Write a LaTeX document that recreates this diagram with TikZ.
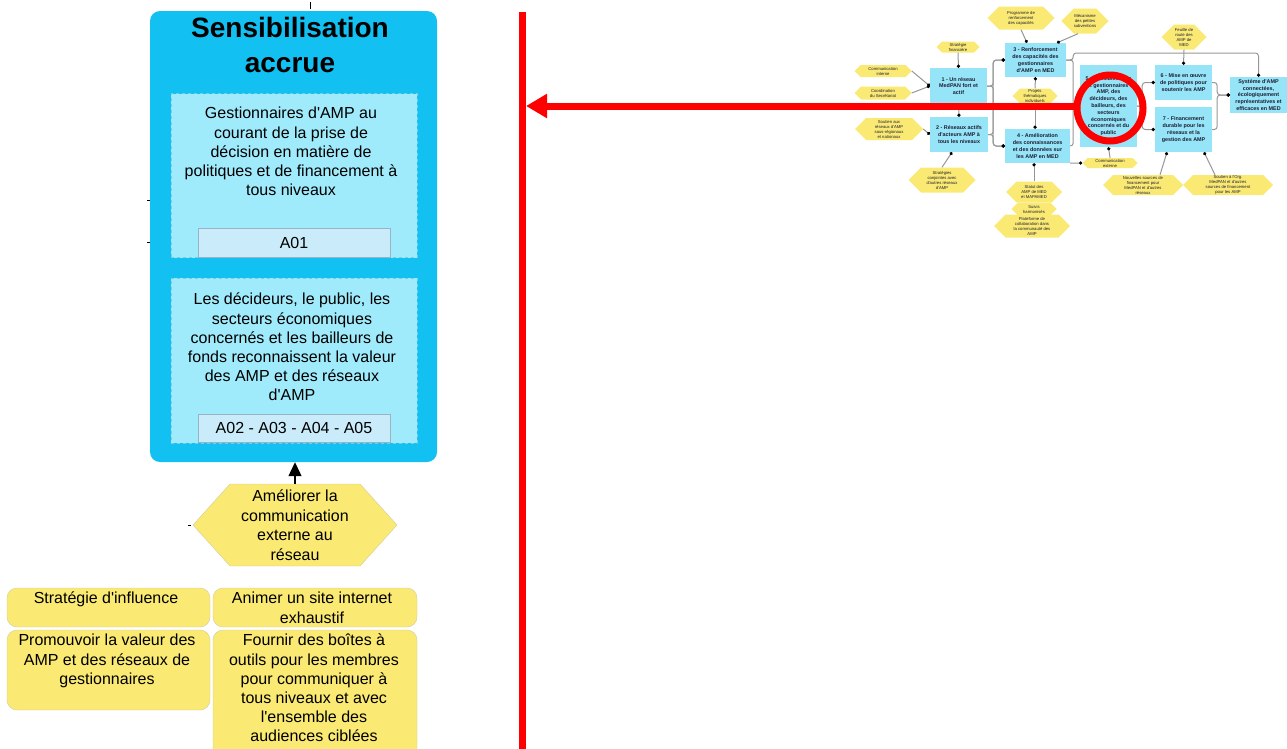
\documentclass[tikz,border=0pt]{standalone}
\usepackage{fontspec}
\setmainfont{Liberation Sans}[Ligatures=TeXOff]
\usetikzlibrary{arrows.meta}
\usetikzlibrary{calc}
\usetikzlibrary{shapes.symbols}

\definecolor{skyfill}{RGB}{18,192,242}
\definecolor{resfill}{RGB}{160,235,251}
\definecolor{resline}{RGB}{120,205,230}
\definecolor{barfill}{RGB}{202,236,250}
\definecolor{barline}{RGB}{150,180,195}
\definecolor{actfill}{RGB}{250,233,115}
\definecolor{actline}{RGB}{210,205,160}
\definecolor{minifill}{RGB}{150,228,248}
\definecolor{minitext}{RGB}{30,30,50}
\definecolor{linkgray}{RGB}{150,150,150}
\definecolor{markred}{RGB}{255,0,0}

\tikzset{
  bigbox/.style={fill=skyfill, rounded corners=10pt, inner sep=0pt},
  resbox/.style={fill=resfill, draw=resline, dashed, inner sep=0pt},
  codebar/.style={fill=barfill, draw=barline, inner sep=0pt, font=\fontsize{16}{19.2}\selectfont},
  bodytext/.style={inner sep=0pt, align=center, font=\fontsize{16}{19.2}\selectfont},
  acthex/.style={shape=signal, signal to=west and east, signal pointer angle=96, fill=actfill, draw=actline, inner sep=0pt, align=center, font=\fontsize{16}{19.5}\selectfont},
  actbox/.style={fill=actfill, draw=actline, rounded corners=10pt, inner sep=0pt},
  minibox/.style={fill=minifill, inner sep=0pt, align=center, text=minitext, font=\fontsize{5.4}{6.8}\bfseries\selectfont},
  minihex/.style={shape=signal, signal to=west and east, signal pointer angle=90, fill=actfill, inner sep=0pt, align=center, text=minitext, font=\fontsize{4.2}{5}\selectfont},
  link/.style={draw=linkgray, line width=1pt, rounded corners=3pt, -{Circle[length=3.2pt, color=black]}},
}

\begin{document}
\begin{tikzpicture}[x=1pt,y=-1pt]
            \useasboundingbox (0,0) rectangle (1287,748);

            % left column
            \node[bigbox, minimum width=287pt, minimum height=451pt] (sens) at (293.5,236.5) {};
            \node[inner sep=0pt, align=center, anchor=north, font=\fontsize{28}{35}\bfseries\selectfont] (senstitle) at (290,17) {Sensibilisation\\accrue};

            \node[resbox, minimum width=246pt, minimum height=164pt] (res1) at (294,175.5) {};
            \node[bodytext, anchor=north] (res1text) at (291,107) {Gestionnaires d'AMP au\\courant de la prise de\\décision en matière de\\politiques et de financement à\\tous niveaux};
            \node[codebar, minimum width=192pt, minimum height=29pt] (code1) at (294,242.5) {A01};

            \node[resbox, minimum width=246pt, minimum height=165pt] (res2) at (294,360.5) {};
            \node[bodytext, anchor=north] (res2text) at (292,293) {Les décideurs, le public, les\\secteurs économiques\\concernés et les bailleurs de\\fonds reconnaissent la valeur\\des AMP et des réseaux\\d'AMP};
            \node[codebar, minimum width=192pt, minimum height=28pt] (code2) at (294,428) {A02 - A03 - A04 - A05};

            \node[acthex, minimum width=204pt, minimum height=82pt] (amel) at (295,525) {Améliorer la\\communication\\externe au\\réseau};
            \draw[-{Triangle[length=14pt,width=13pt]}, line width=1.2pt] (amel.north) -- (amel.north |- sens.south);

            % stray ends
            \draw[line width=1pt] (310,2) -- (310,9);
            \draw[line width=1pt] (147,200) -- (150,200);
            \draw[line width=1pt] (147,242) -- (150,242);
            \draw[line width=1pt] (188,525) -- (191,525);

            % actions
            \node[actbox, minimum width=203pt, minimum height=39pt] (strat) at (108.5,607.5) {};
            \node[bodytext, anchor=north] (strattext) at (106,592) {Stratégie d'influence};
            \node[actbox, minimum width=204pt, minimum height=39pt] (site) at (315,607.5) {};
            \node[bodytext, anchor=north] (sitetext) at (312,592) {Animer un site internet\\exhaustif};
            \node[actbox, minimum width=203pt, minimum height=80pt] (promo) at (108.5,670) {};
            \node[bodytext, anchor=north] (promotext) at (107,634) {Promouvoir la valeur des\\AMP et des réseaux de\\gestionnaires};
            \node[actbox, minimum width=204pt, minimum height=130pt] (boite) at (315,695) {};
            \node[bodytext, anchor=north] (boitetext) at (314,634) {Fournir des boîtes à\\outils pour les membres\\pour communiquer à\\tous niveaux et avec\\l'ensemble des\\audiences ciblées};

            % overview
            \node[minibox, minimum width=57pt, minimum height=36pt] (b1) at (958.5,86) {1 - Un réseau\\MedPAN fort et\\actif};
            \node[minibox, minimum width=58pt, minimum height=35pt] (b2) at (959,134.5) {2 - Réseaux actifs\\d'acteurs AMP à\\tous les niveaux};
            \node[minibox, minimum width=61pt, minimum height=34pt] (b3) at (1035.5,60) {3 - Renforcement\\des capacités des\\gestionnaires\\d'AMP en MED};
            \node[minibox, minimum width=65pt, minimum height=34pt] (b4) at (1037.5,146) {4 - Amélioration\\des connaissances\\et des données sur\\les AMP en MED};
            \node[minibox, minimum width=57pt, minimum height=82pt] (b5) at (1108.5,106) {5 - Sensibilisation\\des gestionnaires d'\\AMP, des\\décideurs, des\\bailleurs, des\\secteurs\\économiques\\concernés et du\\public};
            \node[minibox, minimum width=57pt, minimum height=35pt] (b6) at (1183.5,82.5) {6 - Mise en œuvre\\de politiques pour\\soutenir les AMP};
            \node[minibox, minimum width=57pt, minimum height=45pt] (b7) at (1183.5,129.5) {7 - Financement\\durable pour les\\réseaux et la\\gestion des AMP};
            \node[minibox, minimum width=57pt, minimum height=36pt] (b8) at (1258.5,95) {Système d'AMP\\connectées,\\écologiquement\\représentatives et\\efficaces en MED};

            \node[minihex, minimum width=57pt, minimum height=12pt] (h1) at (883,71) {Communication\\interne};
            \node[minihex, minimum width=57pt, minimum height=13pt] (h2) at (883,93) {Coordination\\du Secrétariat};
            \node[minihex, minimum width=43pt, minimum height=11pt] (h3) at (958,47) {Stratégie\\financière};
            \node[minihex, minimum width=67pt, minimum height=23pt] (h4) at (1021,18) {Programme de\\renforcement\\des capacités};
            \node[minihex, minimum width=45pt, minimum height=25pt] (h5) at (1085,21) {Mécanisme\\des petites\\subventions};
            \node[minihex, minimum width=45pt, minimum height=15pt] (h6) at (1035,96) {Projets\\thématiques\\individuels};
            \node[minihex, minimum width=68pt, minimum height=22pt] (h7) at (889,129) {Soutien aux\\réseaux d'AMP\\sous-régionaux\\et nationaux};
            \node[minihex, minimum width=67pt, minimum height=25pt] (h8) at (942,180) {Stratégies\\conjointes avec\\d'autres réseaux\\d'AMP};
            \node[minihex, minimum width=56pt, minimum height=21pt] (h9) at (1034,192) {Statut des\\AMP de MED\\et MAPAMED};
            \node[minihex, minimum width=45pt, minimum height=12pt] (h10) at (1034,209) {Suivis\\harmonisés};
            \node[minihex, minimum width=76pt, minimum height=23pt] (h11) at (1032,226) {Plateforme de\\collaboration dans\\la communauté des\\AMP};
            \node[minihex, minimum width=45pt, minimum height=25pt] (h12) at (1184,37) {Feuille de\\route des\\AMP de\\MED};
            \node[minihex, minimum width=55pt, minimum height=10pt] (h13) at (1110,163) {Communication\\externe};
            \node[minihex, minimum width=80pt, minimum height=20pt] (h14) at (1143,185) {Nouvelles sources de\\financement pour\\MedPAN et d'autres\\réseaux};
            \node[minihex, minimum width=90pt, minimum height=20pt] (h15) at (1228,185) {Soutien à l'Org.\\MedPAN et d'autres\\sources de financement\\pour les AMP};

            \coordinate (topbus) at (1200,53);

            \draw[link] (h1.east) -- (b1.west);
            \draw[link] (h2.east) -- (b1.west);
            \draw[link] (h3.south) -- (b1.north);
            \draw[link] (b1.south) -- (b2.north);
            \draw[link] (h7.east) -- (b2.west);
            \draw[link] (h8.north) -- ([xshift=-7pt]b2.south);
            \draw[link] (b1.east) -- ++(6,0) |- (b3.west);
            \draw[link] (b1.east) -- ++(6,0) |- (b4.west);
            \draw[link] (b2.east) -- ++(5,0) |- (b3.west);
            \draw[link] (b2.east) -- ++(5,0) |- (b4.west);
            \draw[link] (h4.south) -- ([xshift=-8.5pt]b3.north);
            \draw[link] ([xshift=-7pt]h5.south) -- ([xshift=21.5pt]b3.north);
            \draw[link] (h6.north) -- (b3.south);
            \draw[link] (h6.south) -- (h6.south |- b4.north);
            \draw[link] (h9.north) -- (h9.north |- b4.south);
            \draw[link] (b3.east) -- ++(7,0) |- (b5.west);
            \draw[link] (b4.east) -- ++(3,0) |- (b5.west);
            \draw[link] (b3.east) -- ++(7,0) |- (b8.north |- topbus) -- (b8.north);
            \draw[link] (h12.south) -- (b6.north);
            \draw[link] (b5.east) -- ++(5,0) |- (b6.west);
            \draw[link] (b5.east) -- ++(5,0) |- (b7.west);
            \draw[link] (b6.east) -- ++(5,0) |- (b8.west);
            \draw[link] (b7.east) -- ++(5,0) |- (b8.west);
            \draw[link] (b4.south east) -- (h13.west);
            \draw[link] (h13.north) -- (b5.south);
            \draw[link] ([xshift=17pt]h14.north) -- ([xshift=-16.5pt]b7.south);
            \draw[link] ([xshift=-13pt]h15.north) -- ([xshift=20.5pt]b7.south);

            % pointer
            \coordinate (redtop) at (522,12);
            \coordinate (redbot) at (522,750);
            \coordinate (hit) at (526,106);
            \draw[markred, line width=7pt] (redtop) -- (redbot);
            \node[draw=markred, line width=7pt, circle, minimum size=66pt, inner sep=0pt] (focus) at (1110,108) {};
            \draw[markred, line width=7pt, -{Triangle[length=21pt,width=23pt]}] ([yshift=2pt]focus.west) -- (hit);
        \end{tikzpicture}
\end{document}
